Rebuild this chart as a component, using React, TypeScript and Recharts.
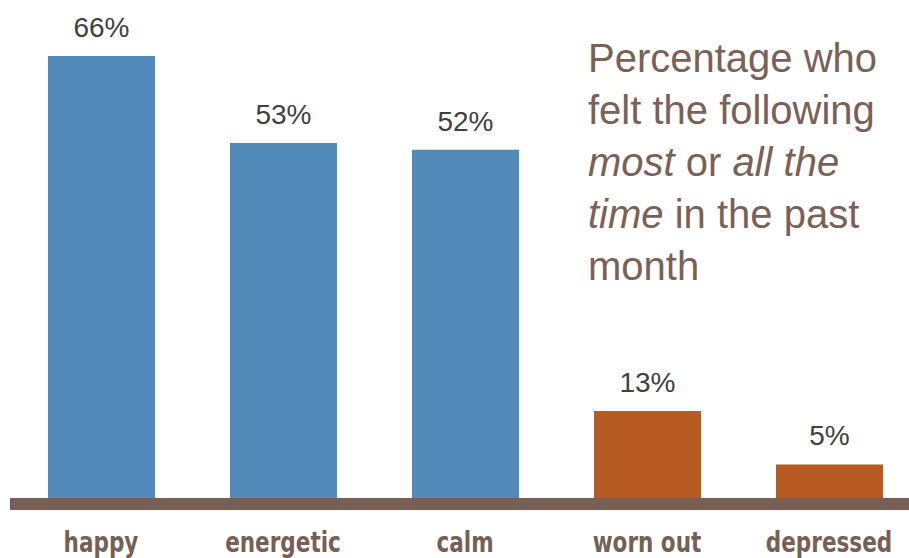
import { BarChart, Bar, XAxis, YAxis, Cell, LabelList, ReferenceArea } from 'recharts';

// Share who felt each way most or all the time
const categories = ['happy', 'energetic', 'calm', 'worn out', 'depressed'];
const values = [66, 53, 52, 13, 5];
const valueLabels = ['66%', '53%', '52%', '13%', '5%'];
const barColors = ['#528ab9', '#528ab9', '#528ab9', '#b85b22', '#b85b22'];

const BROWN = '#775f55';

const data = categories.map((name, i) => ({ name, value: values[i], label: valueLabels[i] }));

// bold, squeezed sideways to look like a condensed face
function CategoryTick({ x, y, payload }: any) {
  return (
    <text
      transform={`translate(${x},${y + 42}) scale(0.77,1)`}
      textAnchor="middle"
      fill={BROWN}
      fontWeight="bold"
      fontSize={28}
      fontFamily="'DejaVu Sans', sans-serif"
    >
      {payload.value}
    </text>
  );
}

function ValueLabel({ x, y, width, index }: any) {
  return (
    <text
      x={x + width / 2}
      y={y - 19}
      textAnchor="middle"
      fill="#404040"
      fontFamily="'Liberation Sans', Arial, sans-serif"
      fontSize={28}
    >
      {valueLabels[index]}
    </text>
  );
}

export default function App() {
  return (
    <div style={{ position: 'absolute', left: 0, top: 0, width: 909, height: 558, overflow: 'hidden', background: '#fff' }}>
      <BarChart
        width={920}
        height={558}
        data={data}
        margin={{ top: 56, right: 0, left: 10, bottom: 18 }}
        barSize={107}
      >
        <XAxis
          dataKey="name"
          height={30}
          axisLine={false}
          tickLine={false}
          tickSize={0}
          tickMargin={0}
          interval={0}
          tick={<CategoryTick />}
        />
        <YAxis hide domain={[-1.8, 66]} allowDataOverflow />
        <ReferenceArea y1={-1.8} y2={0} fill={BROWN} fillOpacity={1} stroke="none" ifOverflow="visible" />
        <Bar dataKey="value" isAnimationActive={false}>
          {data.map((d, i) => (
            <Cell key={d.name} fill={barColors[i]} />
          ))}
          <LabelList dataKey="label" content={<ValueLabel />} />
        </Bar>
      </BarChart>
      <div
        style={{
          position: 'absolute',
          left: 588,
          top: 32,
          fontFamily: "'Liberation Sans', Arial, sans-serif",
          fontSize: 40,
          lineHeight: '52px',
          color: '#7a6057',
          whiteSpace: 'nowrap',
        }}
      >
        Percentage who
        <br />
        felt the following
        <br />
        <i>most</i> or <i>all the</i>
        <br />
        <i>time</i> in the past
        <br />
        month
      </div>
    </div>
  );
}
